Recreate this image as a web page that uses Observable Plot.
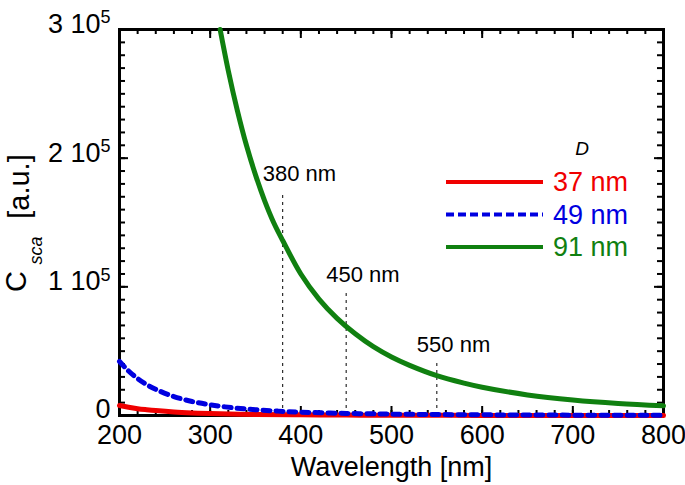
<!DOCTYPE html>
<html><head><meta charset="utf-8">
<script src="https://cdn.jsdelivr.net/npm/d3@7"></script>
<script src="https://cdn.jsdelivr.net/npm/@observablehq/plot@0.6"></script>
<style>body{margin:0;background:#fff;} #chart{width:685px;height:485px;}</style>
</head><body><div id="chart"></div>
<script>
const FONT = "'Liberation Sans', Arial, Helvetica, sans-serif";

// D = 91 nm
const wl91 = [311, 320, 330, 340, 350, 360, 370, 380, 400, 420, 440, 460, 480, 500, 520, 550, 580, 600, 650, 700, 750, 800];
const c91  = [300000, 268000, 237000, 210000, 187000, 167000, 150000, 136000, 110000, 90500, 75500, 63500, 53500, 45500, 39000, 31000, 25200, 22000, 16000, 12000, 9300, 7500];
// D = 49 nm
const wl49 = [200, 210, 220, 230, 240, 260, 280, 300, 325, 350, 375, 400, 450, 500, 550, 600, 700, 800];
const c49  = [42000, 34600, 28700, 24000, 20300, 14700, 10900, 8300, 6000, 4500, 3400, 2600, 1640, 1080, 730, 520, 280, 160];
// D = 37 nm
const wl37 = [200, 210, 220, 230, 240, 260, 280, 300, 350, 400, 450, 500, 600, 700, 800];
const c37  = [7800, 6400, 5300, 4500, 3800, 2700, 2000, 1540, 830, 490, 300, 200, 96, 52, 30];

const seriesNames  = ["37 nm", "49 nm", "91 nm"];
const seriesColors = ["#f00000", "#0000e0", "#108010"];

const xMajor = [200, 300, 400, 500, 600, 700, 800];
const xMinor = d3.range(200, 801, 20);
const yTickVals = [0, 100000, 200000, 300000];
const yTickMantissa = ["0", "1 10", "2 10", "3 10"];
const yTickExp = ["", "5", "5", "5"];
const yMinor = d3.range(0, 300001, 10000);

const markers = [380, 450, 550];
const markerTop = [173300, 94800, 40400];
const markerLabels = ["380 nm", "450 nm", "550 nm"];

const W = 685, H = 485, mL = 119, mR = 22, mT = 29, mB = 70;
const innerW = W - mL - mR, innerH = H - mT - mB;
const FS = 27;

const toRows = (ws, cs) => ws.map((w, i) => ({w, c: cs[i]}));
const d37 = toRows(wl37, c37), d49 = toRows(wl49, c49), d91 = toRows(wl91, c91);

function legendMark() {
  const g = d3.create("svg:g").attr("font-family", FONT);
  g.append("text").attr("x", 582).attr("y", 148).attr("text-anchor", "middle")
    .attr("dy", "0.35em").attr("font-style", "italic").attr("font-size", 19).attr("fill", "black").text("D");
  seriesNames.forEach((n, i) => {
    const y = 182 + i * 32.5;
    g.append("line").attr("x1", 446).attr("x2", 543).attr("y1", y).attr("y2", y)
      .attr("stroke", seriesColors[i]).attr("stroke-width", 4)
      .attr("stroke-dasharray", i === 1 ? "8,4" : null);
    g.append("text").attr("x", 553).attr("y", y).attr("dy", "0.35em").attr("text-anchor", "start")
      .attr("font-size", FS).attr("fill", seriesColors[i]).text(n);
  });
  return g.node();
}

const chart = Plot.plot({
  width: W, height: H,
  marginLeft: mL, marginRight: mR, marginTop: mT, marginBottom: mB,
  x: {domain: [200, 800], axis: null},
  y: {domain: [0, 300000], axis: null},
  style: {fontFamily: FONT, background: "white", color: "black", overflow: "visible"},
  marks: [
    // inward ticks on all four sides
    Plot.tickX(xMinor, {x: d => d, insetTop: innerH - 5, strokeWidth: 2}),
    Plot.tickX(xMajor, {x: d => d, insetTop: innerH - 9, strokeWidth: 2}),
    Plot.tickX(xMinor, {x: d => d, insetBottom: innerH - 5, strokeWidth: 2}),
    Plot.tickX(xMajor, {x: d => d, insetBottom: innerH - 9, strokeWidth: 2}),
    Plot.tickY(yMinor, {y: d => d, insetRight: innerW - 6, strokeWidth: 2}),
    Plot.tickY(yTickVals, {y: d => d, insetRight: innerW - 9, strokeWidth: 2}),
    Plot.tickY(yMinor, {y: d => d, insetLeft: innerW - 6, strokeWidth: 2}),
    Plot.tickY(yTickVals, {y: d => d, insetLeft: innerW - 9, strokeWidth: 2}),
    Plot.frame({stroke: "black", strokeWidth: 3}),
    // marker lines
    Plot.ruleX(markers, {x: d => d, y1: 0, y2: (d, i) => markerTop[i], stroke: "black", strokeWidth: 1, strokeDasharray: "3,4"}),
    Plot.text(markers, {x: d => d, y: (d, i) => markerTop[i], dx: -20, dy: -19, textAnchor: "start",
      text: (d, i) => markerLabels[i], fontSize: 22, fill: "black"}),
    // series
    Plot.line(d37, {x: "w", y: "c", stroke: seriesColors[0], strokeWidth: 5, curve: "catmull-rom"}),
    Plot.line(d49, {x: "w", y: "c", stroke: seriesColors[1], strokeWidth: 5, strokeDasharray: "7,6", curve: "catmull-rom"}),
    Plot.line(d91, {x: "w", y: "c", stroke: seriesColors[2], strokeWidth: 5, curve: "catmull-rom"}),
    // x tick labels
    Plot.text(xMajor, {x: d => d, frameAnchor: "bottom", dy: 9, lineAnchor: "top", text: d => String(d), fontSize: FS, fill: "black"}),
    // y tick labels
    Plot.text(yTickVals, {y: d => d, frameAnchor: "left", dx: -19, dy: -5, textAnchor: "end",
      text: (d, i) => yTickMantissa[i], filter: d => d !== 0, fontSize: FS, fill: "black"}),
    Plot.text(yTickVals, {y: d => d, frameAnchor: "left", dx: -19, dy: -12, textAnchor: "start",
      text: (d, i) => yTickExp[i], filter: d => d !== 0, fontSize: 18, fill: "black"}),
    Plot.text(yTickVals, {y: d => d, frameAnchor: "left", dx: -9, dy: -6, textAnchor: "end",
      text: (d, i) => yTickMantissa[i], filter: d => d === 0, fontSize: FS, fill: "black"}),
    // axis titles
    Plot.text(["Wavelength [nm]"], {frameAnchor: "bottom", dy: 52, lineAnchor: "middle", text: d => d, fontSize: FS, fill: "black"}),
    Plot.text(["C"], {frameAnchor: "left", dx: -103, dy: 59, rotate: -90, textAnchor: "middle", text: d => d, fontSize: 29, fill: "black"}),
    Plot.text(["sca"], {frameAnchor: "left", dx: -83, dy: 28, rotate: -90, textAnchor: "middle", text: d => d, fontSize: 18, fontStyle: "italic", fill: "black"}),
    Plot.text(["[a.u.]"], {frameAnchor: "left", dx: -100, dy: -36, rotate: -90, textAnchor: "middle", text: d => d, fontSize: 29, fill: "black"}),
    legendMark
  ]
});
document.getElementById("chart").appendChild(chart);
</script>
</body></html>
